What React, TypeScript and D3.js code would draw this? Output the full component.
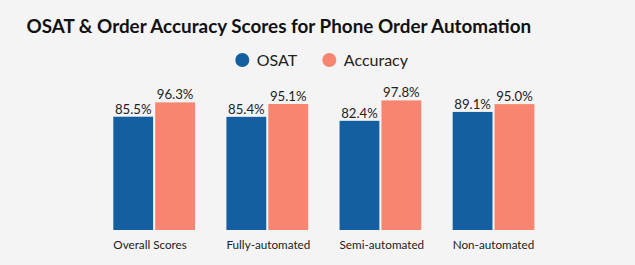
import React from "react";
import * as d3 from "d3";

const categories = ["Overall Scores", "Fully-automated", "Semi-automated", "Non-automated"];
const seriesNames = ["OSAT", "Accuracy"];
const osat = [85.5, 85.4, 82.4, 89.1];
const accuracy = [96.3, 95.1, 97.8, 95.0];
const colors = ["#135fa1", "#f7856f"];
const title = "OSAT & Order Accuracy Scores for Phone Order Automation";

const W = 635;
const H = 265;
const FONT = "Lato, 'Open Sans', sans-serif";

export default function App() {
  const x = d3.scaleBand<string>().domain(categories).range([113.3, 534.4]).paddingInner(0.2776).paddingOuter(0);
  const inner = d3.scaleBand<string>().domain(seriesNames).range([0, x.bandwidth()]).paddingInner(0.05);
  const y = d3.scaleLinear().domain([0, 100]).range([230, 97.5]);
  const series = [osat, accuracy];
  const legendX = [242.3, 329.3];

  return (
    <div style={{ position: "absolute", left: 0, top: 0 }}>
      <svg width={W} height={H} style={{ display: "block", background: "#f4f4f4" }} fontFamily={FONT}>
        <rect x={0} y={0} width={W} height={H} fill="#f4f4f4" />
        <text x={26.5} y={32.7} fontSize={18.85} fontWeight="bold" fill="#111">{title}</text>
        {seriesNames.map((s, i) => {
          const cx = legendX[i];
          return (
            <g key={s}>
              <circle cx={cx} cy={60} r={7} fill={colors[i]} />
              <text x={cx + 14.5} y={65.5} fontSize={16} fill="#222">{s}</text>
            </g>
          );
        })}
        {categories.map((c, ci) => (
          <g key={c} transform={`translate(${x(c)},0)`}>
            {seriesNames.map((s, si) => {
              const v = series[si][ci];
              const bx = inner(s)!;
              return (
                <g key={s}>
                  <rect x={bx} y={y(v)} width={inner.bandwidth()} height={y(0) - y(v)} fill={colors[si]} />
                  <text x={bx + inner.bandwidth() / 2} y={y(v) - 3} textAnchor="middle" fontSize={13.2} fill="#222">
                    {v.toFixed(1) + "%"}
                  </text>
                </g>
              );
            })}
            <text x={0} y={249} fontSize={11.7} fill="#222">{c}</text>
          </g>
        ))}
      </svg>
    </div>
  );
}
